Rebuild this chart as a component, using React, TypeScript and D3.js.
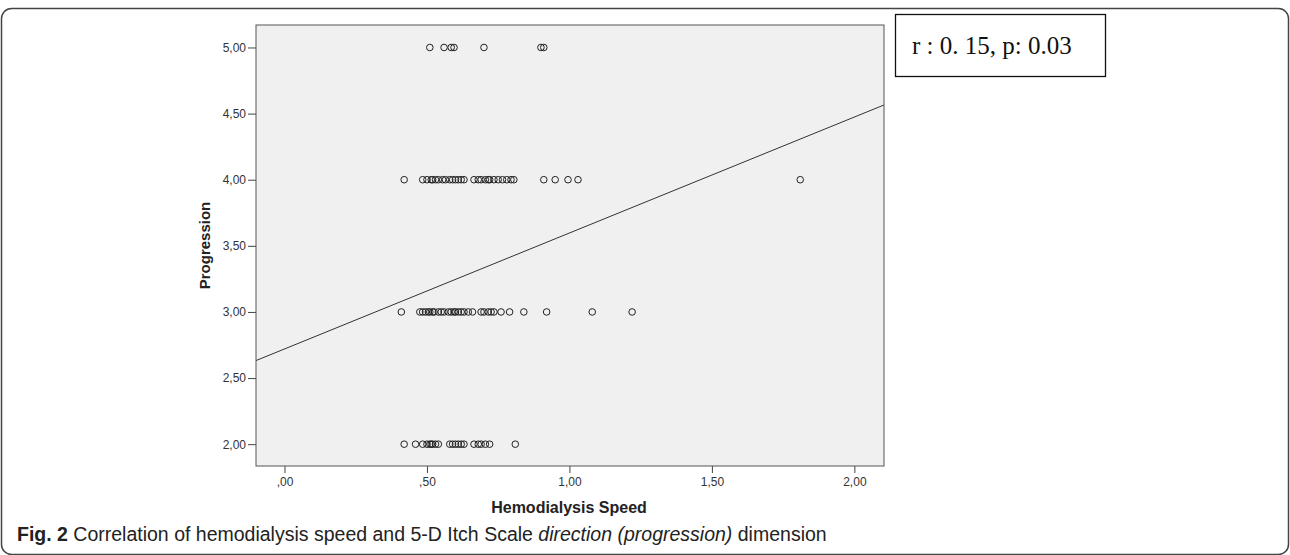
import React, { useEffect, useRef } from 'react';
import * as d3 from 'd3';

// hemodialysis speed values, one list per progression score
const speedsAt5 = [0.51, 0.56, 0.585, 0.595, 0.7, 0.9, 0.91];
const speedsAt4 = [
    0.42, 0.485, 0.5, 0.515, 0.52, 0.53, 0.54, 0.555, 0.565, 0.58, 0.59, 0.6, 0.61, 0.62, 0.63,
    0.665, 0.68, 0.69, 0.705, 0.715, 0.72, 0.735, 0.75, 0.765, 0.78, 0.795, 0.805,
    0.91, 0.95, 0.995, 1.03, 1.81,
];
const speedsAt3 = [
    0.41, 0.475, 0.485, 0.495, 0.505, 0.51, 0.52, 0.525, 0.54, 0.55, 0.56, 0.575, 0.585, 0.595,
    0.6, 0.61, 0.62, 0.63, 0.645, 0.66, 0.69, 0.7, 0.715, 0.725, 0.735, 0.76, 0.79, 0.84,
    0.92, 1.08, 1.22,
];
const speedsAt2 = [
    0.42, 0.46, 0.485, 0.5, 0.51, 0.515, 0.52, 0.53, 0.54, 0.58, 0.59, 0.6, 0.61, 0.62, 0.63,
    0.665, 0.68, 0.69, 0.705, 0.72, 0.81,
];
const progressionLevels = [5, 4, 3, 2];

const xTicks = [0, 0.5, 1, 1.5, 2];
const yTicks = [2, 2.5, 3, 3.5, 4, 4.5, 5];

// fit line
const fitIntercept = 2.72;
const fitSlope = 0.877;

const statsLabel = 'r : 0. 15, p: 0.03';

const fmt = (v: number) => {
    const s = v.toFixed(2).replace('.', ',');
    return s.startsWith('0') ? s.slice(1) : s;
};

export default function App() {
    const svgRef = useRef<SVGSVGElement | null>(null);

    useEffect(() => {
        const width = 1290;
        const svg = d3.select(svgRef.current);
        svg.selectAll('*').remove();

        const plot = { left: 256, right: 884, top: 25, bottom: 466 };
        const sans = 'Liberation Sans, Arial, sans-serif';

        const x = d3.scaleLinear().domain([-0.1, 2.104]).range([plot.left, plot.right]);
        const y = d3.scaleLinear().domain([1.835, 5.17]).range([plot.bottom, plot.top]);

        const points = progressionLevels.flatMap((lvl, i) =>
            [speedsAt5, speedsAt4, speedsAt3, speedsAt2][i].map(s => ({ speed: s, prog: lvl })));

        // outer figure frame
        svg.append('rect')
            .attr('x', 1.5).attr('y', 8.5)
            .attr('width', width - 3).attr('height', 546)
            .attr('rx', 10)
            .attr('fill', 'white')
            .attr('stroke', '#444')
            .attr('stroke-width', 1.5);

        svg.append('defs').append('clipPath').attr('id', 'plotClip')
            .append('rect')
            .attr('x', plot.left).attr('y', plot.top)
            .attr('width', plot.right - plot.left).attr('height', plot.bottom - plot.top);

        svg.append('rect')
            .attr('x', plot.left).attr('y', plot.top)
            .attr('width', plot.right - plot.left).attr('height', plot.bottom - plot.top)
            .attr('fill', '#f0f0f0');

        // y axis
        const yAxis = svg.append('g')
            .attr('transform', `translate(${plot.left},0)`)
            .call(d3.axisLeft(y).tickValues(yTicks).tickFormat(d => fmt(+d)).tickSize(8).tickPadding(2));
        yAxis.select('.domain').remove();
        yAxis.selectAll('line').attr('stroke', '#444');
        yAxis.selectAll('text').attr('fill', '#333').style('font-family', sans).style('font-size', '12px');

        // x axis
        const xAxis = svg.append('g')
            .attr('transform', `translate(0,${plot.bottom})`)
            .call(d3.axisBottom(x).tickValues(xTicks).tickFormat(d => fmt(+d)).tickSize(7).tickPadding(4));
        xAxis.select('.domain').remove();
        xAxis.selectAll('line').attr('stroke', '#444');
        xAxis.selectAll('text').attr('fill', '#333').style('font-family', sans).style('font-size', '12px');

        // fit line
        const line = d3.line<number>()
            .x(d => x(d))
            .y(d => y(fitIntercept + fitSlope * d));
        svg.append('path')
            .datum(x.domain())
            .attr('clip-path', 'url(#plotClip)')
            .attr('fill', 'none')
            .attr('stroke', '#333')
            .attr('stroke-width', 1)
            .attr('d', line);

        // points
        svg.append('g')
            .selectAll('circle')
            .data(points)
            .enter()
            .append('circle')
            .attr('cx', d => x(d.speed))
            .attr('cy', d => y(d.prog))
            .attr('r', 3.3)
            .attr('fill', 'none')
            .attr('stroke', '#222')
            .attr('stroke-width', 1);

        svg.append('rect')
            .attr('x', plot.left).attr('y', plot.top)
            .attr('width', plot.right - plot.left).attr('height', plot.bottom - plot.top)
            .attr('fill', 'none')
            .attr('stroke', '#555')
            .attr('stroke-width', 1);

        // axis titles
        svg.append('text')
            .attr('x', (plot.left + plot.right) / 2 - 1)
            .attr('y', 513)
            .attr('text-anchor', 'middle')
            .attr('fill', '#222')
            .style('font-family', sans)
            .style('font-weight', 'bold')
            .style('font-size', '16px')
            .text('Hemodialysis Speed');

        svg.append('text')
            .attr('transform', `translate(210,${(plot.top + plot.bottom) / 2}) rotate(-90)`)
            .attr('text-anchor', 'middle')
            .attr('fill', '#222')
            .style('font-family', sans)
            .style('font-weight', 'bold')
            .style('font-size', '15px')
            .text('Progression');

        // stats box
        svg.append('rect')
            .attr('x', 895.5).attr('y', 14.5)
            .attr('width', 210).attr('height', 62)
            .attr('fill', 'white')
            .attr('stroke', '#111')
            .attr('stroke-width', 1.3);
        svg.append('text')
            .attr('x', 912)
            .attr('y', 54)
            .attr('fill', '#111')
            .style('font-family', 'Liberation Serif, Times New Roman, serif')
            .style('font-size', '25px')
            .text(statsLabel);

        // caption
        const cap = svg.append('text')
            .attr('x', 17)
            .attr('y', 541)
            .attr('fill', '#222')
            .style('font-family', sans)
            .style('font-size', '19.5px');
        cap.append('tspan').style('font-weight', 'bold').text('Fig. 2');
        cap.append('tspan').text(' Correlation of hemodialysis speed and 5-D Itch Scale ');
        cap.append('tspan').style('font-style', 'italic').text('direction (progression)');
        cap.append('tspan').text(' dimension');
    }, []);

    return (
        <svg ref={svgRef} width={1290} height={555}
            style={{ position: 'absolute', left: 0, top: 0, display: 'block', background: 'white' }} />
    );
}
